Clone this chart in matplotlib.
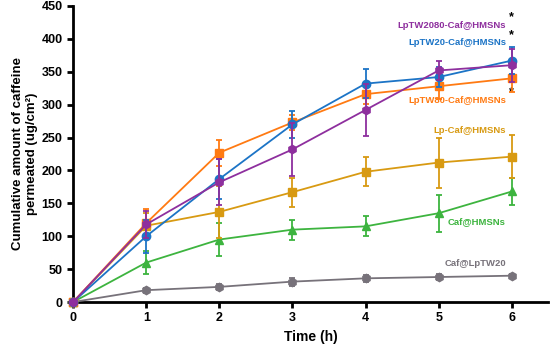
import matplotlib.pyplot as plt

plt.rcParams['font.family'] = ['Liberation Sans', 'DejaVu Sans']

time = [0, 1, 2, 3, 4, 5, 6]

names = ["LpTW2080-Caf@HMSNs", "LpTW20-Caf@HMSNs", "LpTW80-Caf@HMSNs",
         "Lp-Caf@HMSNs", "Caf@HMSNs", "Caf@LpTW20"]

lptw2080 = [0, 118, 182, 232, 292, 352, 360]
lptw2080_err = [0, 20, 35, 40, 40, 15, 25]
lptw20 = [0, 100, 187, 270, 332, 342, 367]
lptw20_err = [0, 25, 30, 20, 22, 15, 20]
lptw80 = [0, 120, 227, 273, 316, 328, 340]
lptw80_err = [0, 22, 20, 12, 15, 20, 20]
lp_caf = [0, 116, 137, 167, 198, 212, 221]
lp_caf_err = [0, 20, 40, 22, 22, 38, 33]
caf_hmsn = [0, 60, 95, 110, 115, 135, 168]
caf_hmsn_err = [0, 18, 25, 15, 15, 28, 20]
caf_lptw20 = [0, 18, 23, 31, 36, 38, 40]
caf_lptw20_err = [0, 4, 5, 6, 5, 5, 3]

series = [lptw2080, lptw20, lptw80, lp_caf, caf_hmsn, caf_lptw20]
errors = [lptw2080_err, lptw20_err, lptw80_err, lp_caf_err, caf_hmsn_err, caf_lptw20_err]
colors = ['#8E2F9E', '#1C74C6', '#FF7A12', '#D89A12', '#3DB43F', '#77727A']
markers = ['h', 'o', 's', 's', '^', 'h']
label_y = [421, 394, 307, 261, 123, 58]
starred = [True, True, True, False, False, False]

fig = plt.figure(figsize=(5.5, 3.52), dpi=100)
ax = fig.add_axes([0.133, 0.142, 0.864, 0.841])

# draw from bottom series up so the top curves sit on top
for i in reversed(range(len(series))):
    ax.errorbar(time, series[i], yerr=errors[i], color=colors[i], marker=markers[i],
                markersize=6, linewidth=1.3, elinewidth=1.3, capsize=2.5, capthick=1.3,
                zorder=3 + (len(series) - i))
    ax.text(5.92, label_y[i], names[i], color=colors[i], fontsize=6.8, fontweight='bold',
            ha='right', va='center')
    if starred[i]:
        ax.text(5.99, label_y[i] + 12, '*', color='black', fontsize=9, fontweight='bold',
                ha='center', va='center')

ax.set_xlim(0, 6.5)
ax.set_ylim(0, 450)
ax.set_xticks([0, 1, 2, 3, 4, 5, 6])
ax.set_yticks(range(0, 451, 50))
for s in ['top', 'right']:
    ax.spines[s].set_visible(False)
for s in ['left', 'bottom']:
    ax.spines[s].set_linewidth(2)
ax.tick_params(width=2, length=4, labelsize=9)
for lab in ax.get_xticklabels() + ax.get_yticklabels():
    lab.set_fontweight('bold')

ax.set_xlabel("Time (h)", fontsize=10, fontweight='bold')
ax.set_ylabel("Cumulative amount of caffeine\npermeated (ug/cm²)", fontsize=9.5,
              fontweight='bold', linespacing=1.15)
ax.yaxis.set_label_coords(-0.075, 0.5)

for line in ax.get_lines():
    line.set_clip_on(False)

fig.savefig("out.png", dpi=100)
